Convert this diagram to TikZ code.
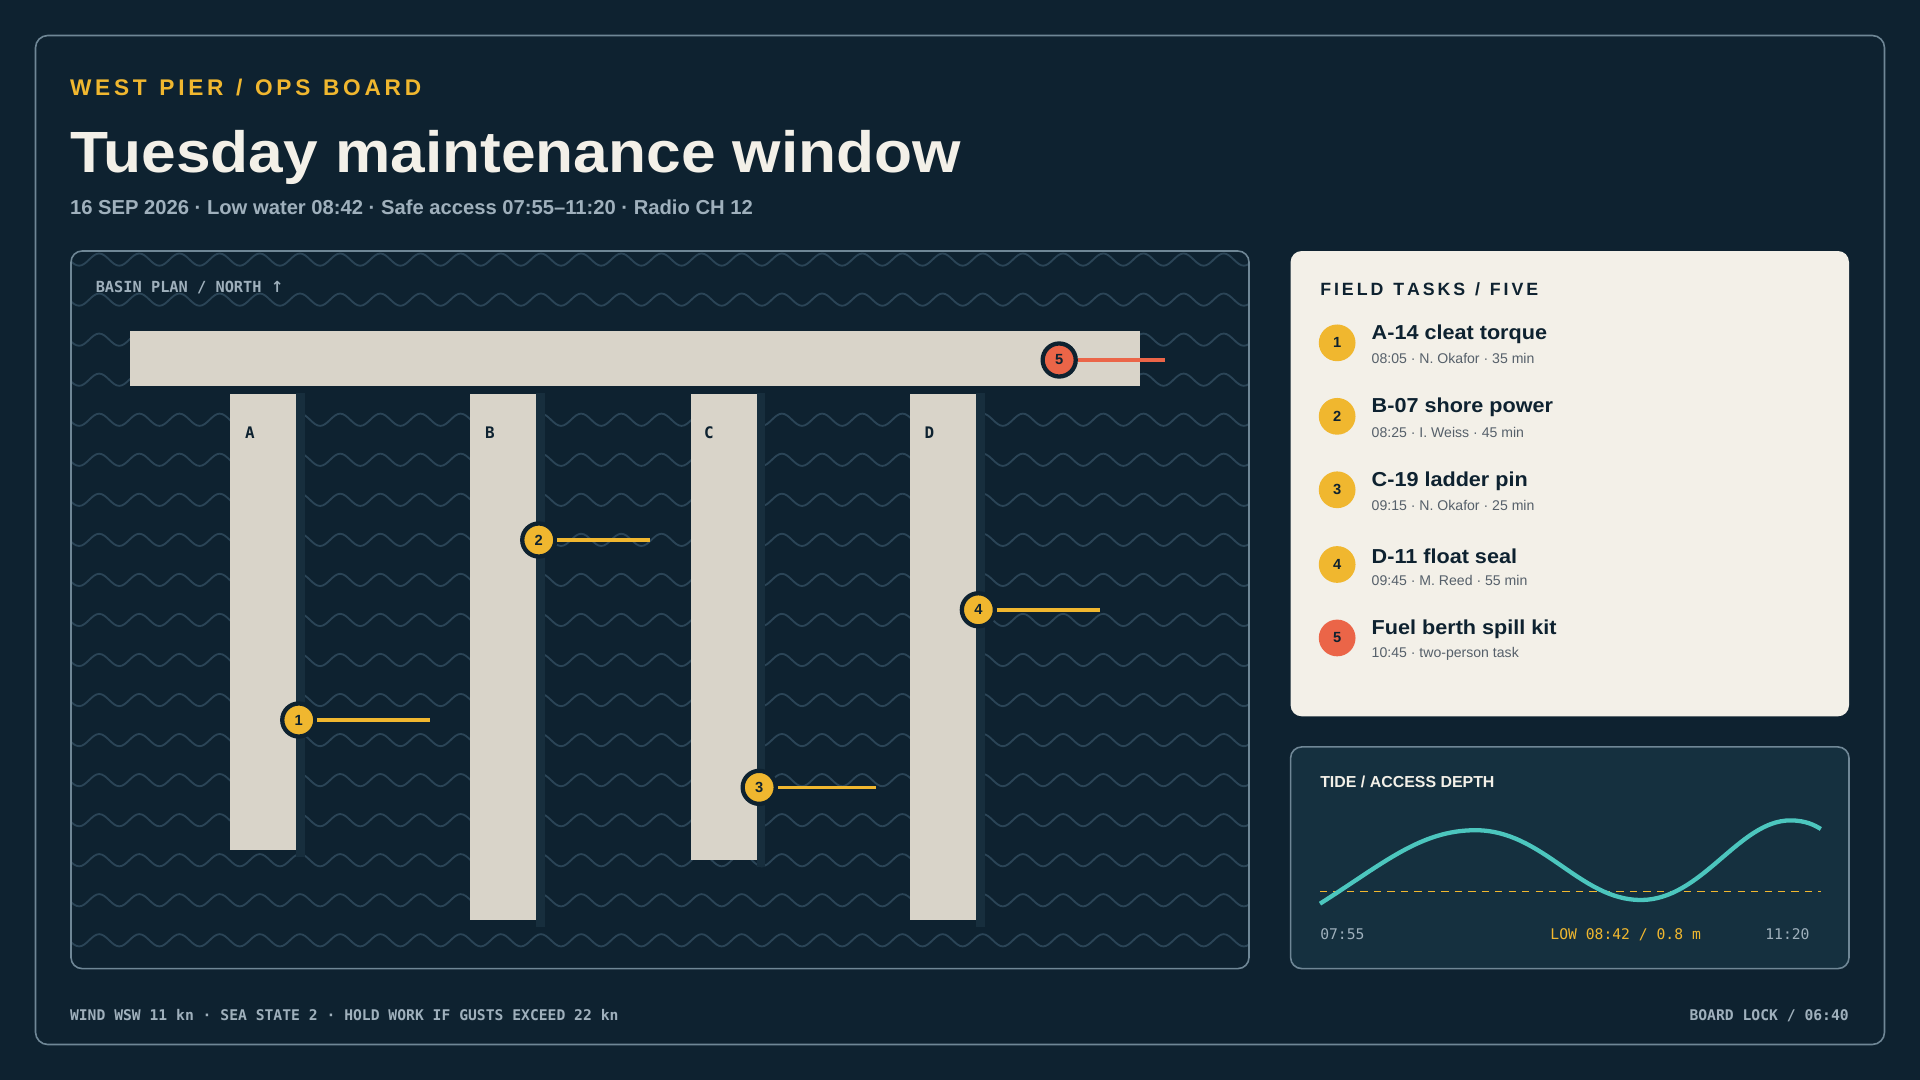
\documentclass[tikz,border=0pt]{standalone}
\usepackage{fontspec}
\setmainfont{Liberation Sans}
\newfontfamily\mono{DejaVu Sans Mono}
\newfontfamily\wide[FakeStretch=1.07]{Liberation Sans}
\newfontfamily\sym{DejaVu Sans}
\begin{document}
\begin{tikzpicture}[x=1pt,y=-1pt,
  pier/.style={fill=sand,draw=none},
  shadow/.style={fill=shade,draw=none},
  mk/.style={circle,minimum size=27pt,inner sep=0pt,line width=3.5pt,draw=navy,font=\bfseries\fontsize{12}{12}\selectfont,text=navy},
  lead/.style={line width=3pt},
  tk/.style={circle,minimum size=30pt,inner sep=0pt,font=\bfseries\fontsize{12}{12}\selectfont,text=navy},
  tt/.style={anchor=west,font=\wide\bfseries\fontsize{16.5}{16}\selectfont,text=navy,inner sep=0pt},
  ts/.style={anchor=west,font=\fontsize{11.5}{12}\selectfont,text=gray4,inner sep=0pt},
  lbl/.style={font=\mono\bfseries\fontsize{13}{13}\selectfont,text=navy},
  mt/.style={font=\mono\fontsize{12}{13}\selectfont,inner sep=0pt},
]
\definecolor{navy}{HTML}{0E2230}
\definecolor{shade}{HTML}{172E3D}
\definecolor{sand}{HTML}{D9D4C9}
\definecolor{gold}{HTML}{F0B72F}
\definecolor{coral}{HTML}{EB6548}
\definecolor{edge}{HTML}{6F8796}
\definecolor{wave}{HTML}{2B4557}
\definecolor{cream}{HTML}{F3F0E8}
\definecolor{muted}{HTML}{9FB0BC}
\definecolor{gray4}{HTML}{56606A}
\definecolor{teal}{HTML}{4CC6BE}
\definecolor{tidebg}{HTML}{15303F}
\fill[navy] (0,0) rectangle (1568,882);
\useasboundingbox (0,0) rectangle (1568,882);
\draw[edge,line width=1.3pt,rounded corners=10pt] (29,29) rectangle (1539,853);
\node[anchor=base west,text=gold,font=\bfseries\fontsize{18.5}{19}\selectfont,inner sep=0pt] (kick) at (57,78) {W\,E\,S\,T\; P\,I\,E\,R\; /\; O\,P\,S\; B\,O\,A\,R\,D};
\node[anchor=base west,text=cream,font=\wide\bfseries\fontsize{47.5}{47}\selectfont,inner sep=0pt] (title) at (57,141) {Tuesday maintenance window};
\node[anchor=base west,text=muted,font=\bfseries\fontsize{16.5}{17}\selectfont,inner sep=0pt] (sub) at (57,175) {16 SEP 2026 · Low water 08:42 · Safe access 07:55–11:20 · Radio CH 12};
% basin panel
\begin{scope}
\clip[rounded corners=9pt] (58,205) rectangle (1020,791);
\foreach \r in {0,...,17}{
  \draw[wave,line width=1.5pt] (40,{212+32.7*\r}) \foreach \k in {0,...,30}{ sin ++(8.2,-5) cos ++(8.2,5) sin ++(8.2,5) cos ++(8.2,-5)};
}
\end{scope}
\draw[edge,line width=1.3pt,rounded corners=9pt] (58,205) rectangle (1020,791);
\node[anchor=base west,text=muted,mt,font=\mono\bfseries\fontsize{12.5}{13}\selectfont] (plan) at (78,239) {BASIN PLAN / NORTH {\sym ↑}};
\fill[navy] (106,315) rectangle (931,321);
\fill[pier] (106,270) rectangle (931,315);
\foreach \x/\b in {188/694,384/751,564/702,743/751}{
  \fill[shadow] (\x+54,321) rectangle (\x+61,\b+6);
  \fill[pier] (\x,322) rectangle (\x+54,\b);
}
\node[lbl] (la) at (204,353) {A};
\node[lbl] (lb) at (400,353) {B};
\node[lbl] (lc) at (579,353) {C};
\node[lbl] (ld) at (759,353) {D};
\coordinate (e1) at (351,588); \coordinate (e2) at (531,441); \coordinate (e3) at (715,643);
\coordinate (e4) at (898,498); \coordinate (e5) at (951,294);
\node[mk,fill=gold] (m1) at (244,588) {1};
\node[mk,fill=gold] (m2) at (440,441) {2};
\node[mk,fill=gold] (m3) at (620,643) {3};
\node[mk,fill=gold] (m4) at (799,498) {4};
\node[mk,fill=coral] (m5) at (865,294) {5};
\draw[lead,gold] (m1) -- (e1); \draw[lead,gold] (m2) -- (e2); \draw[lead,gold] (m3) -- (e3);
\draw[lead,gold] (m4) -- (e4); \draw[lead,coral] (m5) -- (e5);
% tasks
\fill[cream,rounded corners=9pt] (1054,205) rectangle (1510,585);
\node[anchor=base west,text=navy,font=\bfseries\fontsize{14.5}{15}\selectfont,inner sep=0pt] (ft) at (1078,241) {F\,I\,E\,L\,D\; T\,A\,S\,K\,S\; /\; F\,I\,V\,E};
\foreach \i/\y/\t/\s/\c in {1/280/A-14 cleat torque/08:05 · N. Okafor · 35 min/gold,
  2/340/B-07 shore power/08:25 · I. Weiss · 45 min/gold,
  3/400/C-19 ladder pin/09:15 · N. Okafor · 25 min/gold,
  4/461/D-11 float seal/09:45 · M. Reed · 55 min/gold,
  5/521/Fuel berth spill kit/10:45 · two-person task/coral}{
  \node[tk,fill=\c] (t\i) at (1092,\y) {\i};
  \node[tt] (tt\i) at (1120,\y-7) {\t};
  \node[ts] (ts\i) at (1120,\y+13) {\s};
}
% tide
\fill[tidebg,rounded corners=9pt] (1054,610) rectangle (1510,791);
\draw[edge,line width=1.3pt,rounded corners=9pt] (1054,610) rectangle (1510,791);
\node[anchor=base west,text=cream,font=\bfseries\fontsize{13}{13}\selectfont,inner sep=0pt] (tl) at (1078,643) {TIDE / ACCESS DEPTH};
\draw[gold,line width=1.5pt,dash pattern=on 6pt off 5pt] (1078,728) -- (1487,728);
\draw[teal,line width=3.5pt] (1078,738) .. controls (1130,705) and (1160,678) .. (1205,678)
  .. controls (1260,678) and (1290,735) .. (1340,735)
  .. controls (1390,735) and (1420,670) .. (1462,670) .. controls (1475,670) and (1482,674) .. (1487,677);
\node[anchor=base west,text=muted,mt] (t0) at (1078,767) {07:55};
\node[anchor=base west,text=gold,mt] (t1) at (1266,767) {LOW 08:42 / 0.8 m};
\node[anchor=base east,text=muted,mt] (t2) at (1478,767) {11:20};
\node[anchor=base west,text=muted,mt,font=\mono\bfseries\fontsize{12}{13}\selectfont] (f1) at (57,833) {WIND WSW 11 kn · SEA STATE 2 · HOLD WORK IF GUSTS EXCEED 22 kn};
\node[anchor=base east,text=muted,mt,font=\mono\bfseries\fontsize{12}{13}\selectfont] (f2) at (1510,833) {BOARD LOCK / 06:40};
\end{tikzpicture}
\end{document}
